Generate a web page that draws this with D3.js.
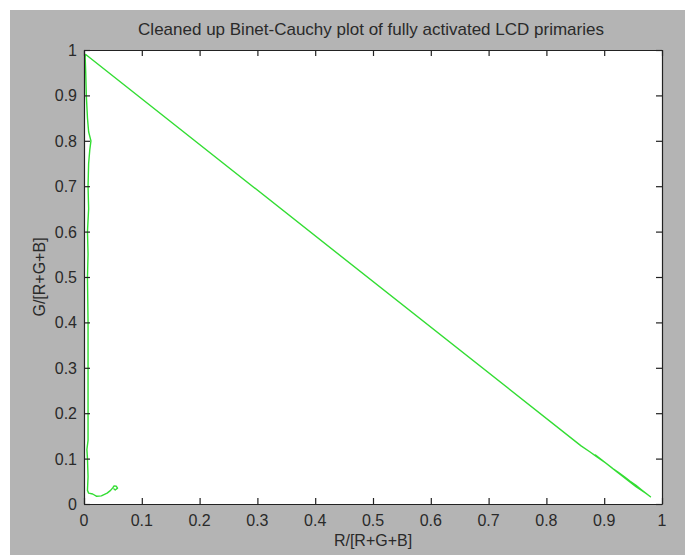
<!DOCTYPE html>
<html>
<head>
<meta charset="utf-8">
<script src="https://cdn.jsdelivr.net/npm/d3@7"></script>
<style>
  html, body { margin: 0; padding: 0; background: #ffffff; }
  svg { display: block; }
  text { font-family: "Liberation Sans", Arial, Helvetica, sans-serif; fill: #2a2a2a; }
</style>
</head>
<body>
<svg id="chart" width="691" height="555"></svg>
<script>
// ---- data ----
const title = "Cleaned up Binet-Cauchy plot of fully activated LCD primaries";
const xLabel = "R/[R+G+B]";
const yLabel = "G/[R+G+B]";
const xTicks = [0, 0.1, 0.2, 0.3, 0.4, 0.5, 0.6, 0.7, 0.8, 0.9, 1];
const yTicks = [0, 0.1, 0.2, 0.3, 0.4, 0.5, 0.6, 0.7, 0.8, 0.9, 1];
const tickLabels = ["0", "0.1", "0.2", "0.3", "0.4", "0.5", "0.6", "0.7", "0.8", "0.9", "1"];

// r = R/(R+G+B), g = G/(R+G+B) along the traced locus
const rValues = [
  0.051, 0.054, 0.058, 0.056, 0.052, 0.050, 0.046, 0.040, 0.030, 0.022,
  0.015, 0.008, 0.006, 0.007, 0.006, 0.005, 0.007, 0.007, 0.007, 0.007,
  0.006, 0.007, 0.006, 0.008, 0.007, 0.008, 0.010, 0.012, 0.008, 0.006,
  0.004, 0.003, 0.002, 0.003,
  0.860, 0.875, 0.885, 0.895, 0.905, 0.915, 0.925, 0.935, 0.945, 0.955,
  0.965, 0.980, 0.955, 0.925, 0.885, 0.920, 0.955, 0.975
];
const gValues = [
  0.034, 0.031, 0.035, 0.039, 0.040, 0.036, 0.030, 0.024, 0.018, 0.017,
  0.022, 0.024, 0.030, 0.060, 0.100, 0.120, 0.140, 0.200, 0.300, 0.400,
  0.500, 0.550, 0.600, 0.650, 0.700, 0.750, 0.780, 0.800, 0.820, 0.850,
  0.900, 0.950, 0.985, 0.990,
  0.128, 0.115, 0.106, 0.097, 0.088, 0.078, 0.069, 0.060, 0.050, 0.041,
  0.031, 0.016, 0.040, 0.068, 0.108, 0.073, 0.038, 0.021
];

// ---- layout ----
const svg = d3.select("#chart");
const plot = { left: 84, right: 662, top: 50, bottom: 504 };

svg.append("rect").attr("x", 10).attr("y", 10).attr("width", 675).attr("height", 545)
  .attr("fill", "#b4b4b4");

const x = d3.scaleLinear().domain([0, 1]).range([plot.left, plot.right]);
const y = d3.scaleLinear().domain([0, 1]).range([plot.bottom, plot.top]);

svg.append("rect").attr("x", plot.left).attr("y", plot.top)
  .attr("width", plot.right - plot.left).attr("height", plot.bottom - plot.top)
  .attr("fill", "#ffffff");

// data line
const pts = rValues.map((r, i) => [r, gValues[i]]);
const line = d3.line().x(d => x(d[0])).y(d => y(d[1]));
svg.append("path").datum(pts).attr("d", line)
  .attr("fill", "none").attr("stroke", "#33dd33").attr("stroke-width", 1.4)
  .attr("stroke-linejoin", "round");

// axes: ticks inside on all four sides (MATLAB style)
const tickLen = 6;
const axStroke = "#222";

const gBottom = svg.append("g").attr("transform", `translate(0,${plot.bottom})`)
  .call(d3.axisTop(x).tickValues(xTicks).tickSize(tickLen).tickFormat("").tickSizeOuter(0));
const gTop = svg.append("g").attr("transform", `translate(0,${plot.top})`)
  .call(d3.axisBottom(x).tickValues(xTicks).tickSize(tickLen).tickFormat("").tickSizeOuter(0));
const gLeft = svg.append("g").attr("transform", `translate(${plot.left},0)`)
  .call(d3.axisRight(y).tickValues(yTicks).tickSize(tickLen).tickFormat("").tickSizeOuter(0));
const gRight = svg.append("g").attr("transform", `translate(${plot.right},0)`)
  .call(d3.axisLeft(y).tickValues(yTicks).tickSize(tickLen).tickFormat("").tickSizeOuter(0));

[gBottom, gTop, gLeft, gRight].forEach(g => {
  g.select(".domain").attr("stroke", axStroke).attr("stroke-width", 1.2);
  g.selectAll(".tick line").attr("stroke", axStroke).attr("stroke-width", 1.2);
});

// tick labels
svg.append("g").selectAll("text").data(xTicks).join("text")
  .attr("x", d => x(d)).attr("y", 526)
  .attr("text-anchor", "middle").attr("font-size", 16)
  .text((d, i) => tickLabels[i]);

svg.append("g").selectAll("text").data(yTicks).join("text")
  .attr("x", 77).attr("y", d => y(d) + 6)
  .attr("text-anchor", "end").attr("font-size", 16)
  .text((d, i) => tickLabels[i]);

// title and axis labels
svg.append("text").attr("x", 371).attr("y", 35).attr("text-anchor", "middle")
  .attr("font-size", 17).text(title);

svg.append("text").attr("x", 373).attr("y", 546).attr("text-anchor", "middle")
  .attr("font-size", 16).text(xLabel);

svg.append("text").attr("transform", `translate(45,${(plot.top + plot.bottom) / 2}) rotate(-90)`)
  .attr("text-anchor", "middle").attr("font-size", 16).text(yLabel);
</script>
</body>
</html>
